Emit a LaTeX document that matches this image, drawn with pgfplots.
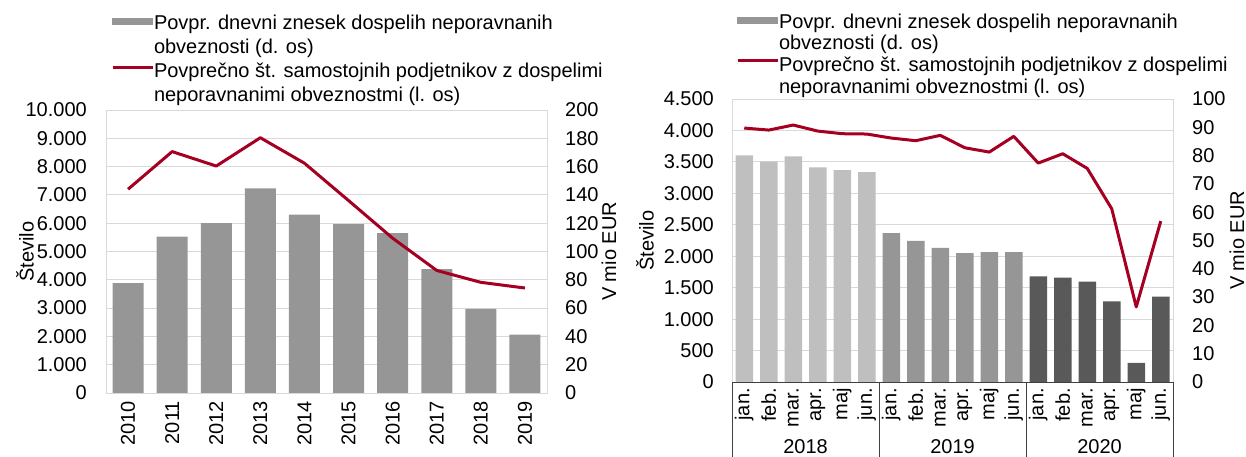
\documentclass[border=0pt]{standalone}
\usepackage{pgfplots}
\pgfplotsset{compat=1.18}
\usepackage{fontspec}
\setmainfont{Liberation Sans}

\definecolor{linered}{RGB}{165,0,33}
\definecolor{gridgray}{RGB}{217,217,217}
\definecolor{bargray}{RGB}{150,150,150}
\definecolor{lightbar}{RGB}{191,191,191}
\definecolor{darkbar}{RGB}{89,89,89}
\definecolor{sepgray}{RGB}{64,64,64}
\newcommand\fs{\fontsize{20bp}{24bp}\selectfont}

\pgfplotsset{
  base/.style={
    scale only axis, ymin=0,
    major tick length=0pt,
    scaled y ticks=false,
    tick label style={font=\fs, inner sep=0pt},
    label style={font=\fs},
    axis line style={gridgray, line width=1bp},
    /pgf/number format/1000 sep={.},
    /pgf/number format/assume math mode=true,
  },
  leftpanel/.style={base, width=441bp, height=283bp, xmin=-0.5, xmax=9.5,
    at={(106bp,-393bp)}, anchor=south west},
  rightpanel/.style={base, width=441bp, height=283bp, xmin=-0.5, xmax=17.5,
    at={(732bp,-382bp)}, anchor=south west},
  barleg/.style={legend image code/.code={\fill[bargray] (0bp,5bp) rectangle (40bp,11bp);}},
}

\pgfplotstableread{
x bar line
0 77.6 7200
1 110.6 8530
2 120.0 8020
3 144.7 9020
4 126.1 8120
5 119.3 6800
6 112.9 5470
7 87.5 4330
8 59.5 3910
9 41.2 3710
}\lefttable

\pgfplotstableread{
x bar line
0 80.1 4038
1 77.9 4006
2 79.7 4086
3 75.8 3990
4 74.9 3948
5 74.2 3943
6 52.6 3879
7 49.9 3837
8 47.4 3922
9 45.5 3725
10 45.9 3656
11 45.9 3906
12 37.3 3481
13 36.9 3630
14 35.5 3396
15 28.5 2754
16 6.8 1194
17 30.2 2558
}\righttable

\begin{document}
\begin{tikzpicture}
\useasboundingbox (0,0) rectangle (1246bp,-457bp);

% ================= LEFT PANEL =================
\begin{axis}[leftpanel, ymax=10000, ytick={0,1000,...,10000},
  ymajorgrids, grid style={gridgray, line width=1bp},
  xtick={0,...,9}, xticklabels={2010,2011,2012,2013,2014,2015,2016,2017,2018,2019},
  x tick label style={anchor=east, yshift=-8bp, rotate=90},
  y tick label style={anchor=east, xshift=-19bp},
  ylabel={Število},
  every axis y label/.style={at={(axis description cs:0,0.5)}, xshift=-81bp, rotate=90, anchor=center, font=\fs},
]
\end{axis}

\begin{axis}[leftpanel, ymax=200, ytick={0,20,...,200},
  axis y line*=right, axis x line=none,
  y tick label style={anchor=west, xshift=18bp},
  ylabel={V mio EUR},
  every axis y label/.style={at={(axis description cs:1,0.5)}, xshift=62bp, rotate=90, anchor=center, font=\fs},
]
\addplot[ybar, bar width=31bp, bar shift=0pt, fill=bargray, draw=none] table[x=x, y=bar] {\lefttable};
\end{axis}

\begin{axis}[leftpanel, ymax=10000, hide axis, clip=false,
  legend style={font=\fs, draw=none, fill=none, inner sep=0pt, outer sep=0pt, row sep=0pt,
    nodes={inner sep=0pt, text height=18bp, text depth=6.3bp, anchor=base west},
    at={(axis description cs:0,1)}, anchor=north west, xshift=5bp, yshift=99bp},
]
\addlegendimage{barleg}
\addlegendentry{Povpr. dnevni znesek dospelih neporavnanih}
\addlegendimage{empty legend}
\addlegendentry{obveznosti (d. os)}
\addplot[linered, line width=3bp, line join=round,
  legend image code/.code={\draw[linered, line width=3bp] (0bp,10.5bp) -- (40bp,10.5bp);}]
  table[x=x, y=line] {\lefttable};
\addlegendentry{Povprečno št. samostojnih podjetnikov z dospelimi}
\addlegendimage{empty legend}
\addlegendentry{neporavnanimi obveznostmi (l. os)}
\draw[gridgray, line width=1bp] (rel axis cs:0,0) -- (rel axis cs:1,0);
\end{axis}

% ================= RIGHT PANEL =================
\begin{axis}[rightpanel, ymax=4500, ytick={0,500,...,4500},
  ymajorgrids, grid style={gridgray, line width=1bp},
  xtick={0,...,17},
  xticklabels={jan.,feb.,mar.,apr.,maj,jun.,jan.,feb.,mar.,apr.,maj,jun.,jan.,feb.,mar.,apr.,maj,jun.},
  x tick label style={anchor=east, yshift=-6bp, rotate=90},
  y tick label style={anchor=east, xshift=-18bp},
  ylabel={Število},
  every axis y label/.style={at={(axis description cs:0,0.5)}, xshift=-87bp, rotate=90, anchor=center, font=\fs},
]
\end{axis}

\begin{axis}[rightpanel, ymax=100, ytick={0,10,...,100},
  axis y line*=right, axis x line=none,
  y tick label style={anchor=west, xshift=19bp},
  ylabel={V mio EUR},
  every axis y label/.style={at={(axis description cs:1,0.5)}, xshift=64bp, rotate=90, anchor=center, font=\fs},
]
\addplot[ybar, bar width=17.5bp, bar shift=0pt, fill=lightbar, draw=none] table[x=x, y=bar, restrict expr to domain={\thisrow{x}}{0:5}] {\righttable};
\addplot[ybar, bar width=17.5bp, bar shift=0pt, fill=bargray, draw=none] table[x=x, y=bar, restrict expr to domain={\thisrow{x}}{6:11}] {\righttable};
\addplot[ybar, bar width=17.5bp, bar shift=0pt, fill=darkbar, draw=none] table[x=x, y=bar, restrict expr to domain={\thisrow{x}}{12:17}] {\righttable};
\end{axis}

\begin{axis}[rightpanel, ymax=4500, hide axis, clip=false,
  legend style={font=\fs, draw=none, fill=none, inner sep=0pt, outer sep=0pt, row sep=0pt,
    nodes={inner sep=0pt, text height=16bp, text depth=5.7bp, anchor=base west},
    at={(axis description cs:0,1)}, anchor=north west, xshift=4bp, yshift=87bp},
]
\addlegendimage{barleg}
\addlegendentry{Povpr. dnevni znesek dospelih neporavnanih}
\addlegendimage{empty legend}
\addlegendentry{obveznosti (d. os)}
\addplot[linered, line width=3bp, line join=round,
  legend image code/.code={\draw[linered, line width=3bp] (0bp,11bp) -- (40bp,11bp);}]
  table[x=x, y=line] {\righttable};
\addlegendentry{Povprečno št. samostojnih podjetnikov z dospelimi}
\addlegendimage{empty legend}
\addlegendentry{neporavnanimi obveznostmi (l. os)}
\draw[sepgray, line width=1bp] (rel axis cs:0,0) -- (rel axis cs:1,0);
\draw[sepgray, line width=1bp] (axis cs:-0.5,0) -- ([yshift=-75bp]axis cs:-0.5,0);
\draw[sepgray, line width=1bp] (axis cs:5.5,0) -- ([yshift=-75bp]axis cs:5.5,0);
\draw[sepgray, line width=1bp] (axis cs:11.5,0) -- ([yshift=-75bp]axis cs:11.5,0);
\draw[sepgray, line width=1bp] (axis cs:17.5,0) -- ([yshift=-75bp]axis cs:17.5,0);
\node[font=\fs, anchor=center] at ([yshift=-65bp]axis cs:2.5,0) {2018};
\node[font=\fs, anchor=center] at ([yshift=-65bp]axis cs:8.5,0) {2019};
\node[font=\fs, anchor=center] at ([yshift=-65bp]axis cs:14.5,0) {2020};
\end{axis}
\end{tikzpicture}
\end{document}
